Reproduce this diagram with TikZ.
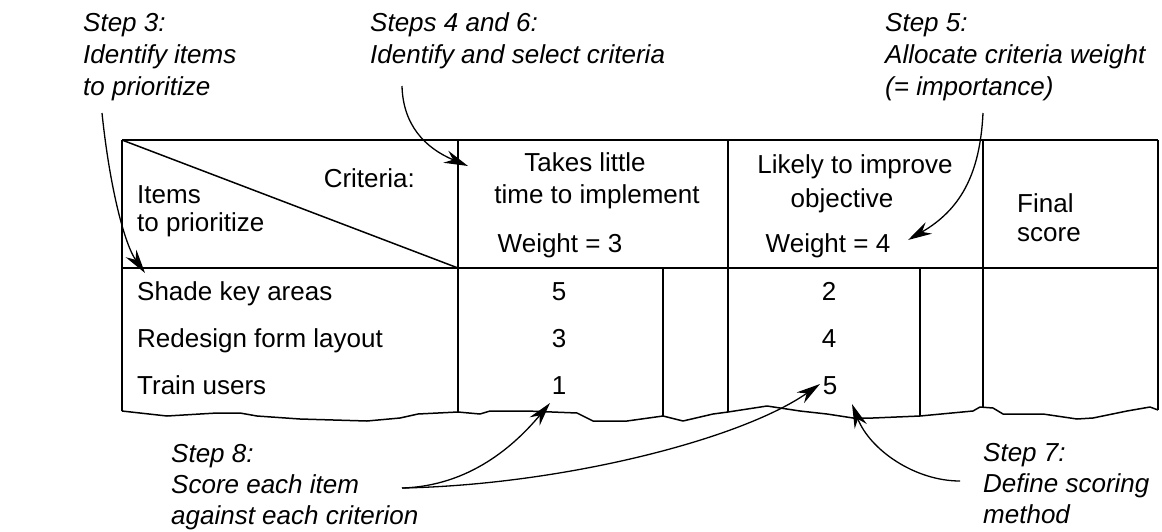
\documentclass[tikz,border=0pt]{standalone}
\usepackage{fontspec}
\setmainfont{Liberation Sans}
\usetikzlibrary{arrows.meta}
\newcommand\tblsize{\fontsize{26}{30}\selectfont}
\begin{document}
\begin{tikzpicture}[x=1pt,y=-1pt,
  grid/.style={line width=1.8pt},
  wave/.style={line width=1.5pt, line join=round},
  txt/.style={font=\tblsize, inner sep=0pt},
  ann/.style={font=\tblsize\itshape, inner sep=0pt, anchor=base west},
  pointer/.style={line width=1.3pt, -{Stealth[length=24pt,width=13pt]}}]
\useasboundingbox[fill=white] (0,0) rectangle (1162,531);

% ---- table frame ----
\coordinate (TL) at (122,140);
\coordinate (TR) at (1158,140);
\coordinate (HL) at (122,268);
\coordinate (HR) at (1158,268);
\coordinate (DG) at (458,268);
\draw[grid] (TL) -- (TR);
\draw[grid] (HL) -- (HR);
\draw[grid] (122,140) -- (122,411);
\draw[grid] (458,140) -- (458,412);
\draw[grid] (663,268) -- (663,416);
\draw[grid] (728,140) -- (728,412);
\draw[grid] (920,268) -- (920,416);
\draw[grid] (983,140) -- (983,408);
\draw[grid] (1158,140) -- (1158,410);
\draw[line width=1.5pt] (TL) -- (DG);
% torn bottom edge
\draw[wave] (122,411) -- (140,413) -- (167,416) -- (200,414) -- (217,413) -- (240,413)
  -- (257,416) -- (300,419) -- (367,421) -- (400,418) -- (418,414) -- (458,412)
  -- (480,414) -- (490,411) -- (527,411) -- (577,413) -- (593,421) -- (627,421)
  -- (663,416) -- (683,421) -- (713,414) -- (728,412) -- (767,406) -- (800,411)
  -- (827,414) -- (853,418) -- (873,418) -- (920,416) -- (973,411) -- (980,407)
  -- (993,408) -- (1003,414) -- (1043,414) -- (1077,419) -- (1093,418)
  -- (1127,411) -- (1150,407) -- (1158,410);

% ---- header texts ----
\node[txt, anchor=base east] (crit) at (415,187) {Criteria:};
\node[txt, anchor=base west] (items1) at (137,203) {Items};
\node[txt, anchor=base west] (items2) at (137,231) {to prioritize};
\node[txt, anchor=base] (c1a) at (585,171) {Takes little};
\node[txt, anchor=base] (c1b) at (597,203) {time to implement};
\node[txt, anchor=base] (w3) at (560,252) {Weight = 3};
\node[txt, anchor=base] (c2a) at (855,173) {Likely to improve};
\node[txt, anchor=base] (c2b) at (842,207) {objective};
\node[txt, anchor=base west] (fin1) at (1017,212) {Final};
\node[txt, anchor=base] (w4) at (828,252) {Weight = 4};
\node[txt, anchor=base west] (fin2) at (1017,241) {score};

% ---- rows ----
\node[txt, anchor=base west] (r1) at (137,300) {Shade key areas};
\node[txt, anchor=base west] (r2) at (137,347) {Redesign form layout};
\node[txt, anchor=base west] (r3) at (137,394) {Train users};
\node[txt, anchor=base] (n11) at (559,300) {5};
\node[txt, anchor=base] (n21) at (559,347) {3};
\node[txt, anchor=base] (n31) at (559,394) {1};
\node[txt, anchor=base] (n12) at (829,300) {2};
\node[txt, anchor=base] (n22) at (829,347) {4};
\node[txt, anchor=base] (n32) at (830,394) {5};

% ---- annotations ----
\node[ann] (s3a) at (83,31) {Step 3:};
\node[ann] (s3b) at (83,63) {Identify items};
\node[ann] (s3c) at (83,95) {to prioritize};
\node[ann] (s4a) at (370,31) {Steps 4 and 6:};
\node[ann] (s4b) at (370,63) {Identify and select criteria};
\node[ann] (s5a) at (885,31) {Step 5:};
\node[ann] (s5b) at (885,63) {Allocate criteria weight};
\node[ann] (s5c) at (885,95) {(= importance)};
\node[ann] (s8a) at (171,462) {Step 8:};
\node[ann] (s8b) at (171,493) {Score each item};
\node[ann] (s8c) at (171,524) {against each criterion};
\node[ann] (s7a) at (983,461) {Step 7:};
\node[ann] (s7b) at (983,492) {Define scoring};
\node[ann] (s7c) at (983,523) {method};

% ---- pointers ----
\coordinate (a3s) at (102,113);
\coordinate (a3e) at (145,273);
\coordinate (a4s) at (402,86);
\coordinate (a4e) at (468,166);
\coordinate (a5s) at (983,113);
\coordinate (a5e) at (908,240);
\coordinate (a8s) at (402,488);
\coordinate (a8e1) at (550,403);
\coordinate (a8e2) at (820,384);
\coordinate (a7s) at (960,481);
\coordinate (a7e) at (852,404);
\draw[pointer] (a3s) .. controls (110,190) and (125,245) .. (a3e);
\draw[pointer] (a4s) .. controls (403,125) and (425,148) .. (a4e);
\draw[pointer] (a5s) .. controls (980,175) and (960,210) .. (a5e);
\draw[pointer] (a8s) .. controls (470,486) and (515,445) .. (a8e1);
\draw[pointer] (a8s) .. controls (560,485) and (740,440) .. (a8e2);
\draw[pointer] (a7s) .. controls (915,481) and (870,450) .. (a7e);
\end{tikzpicture}
\end{document}
